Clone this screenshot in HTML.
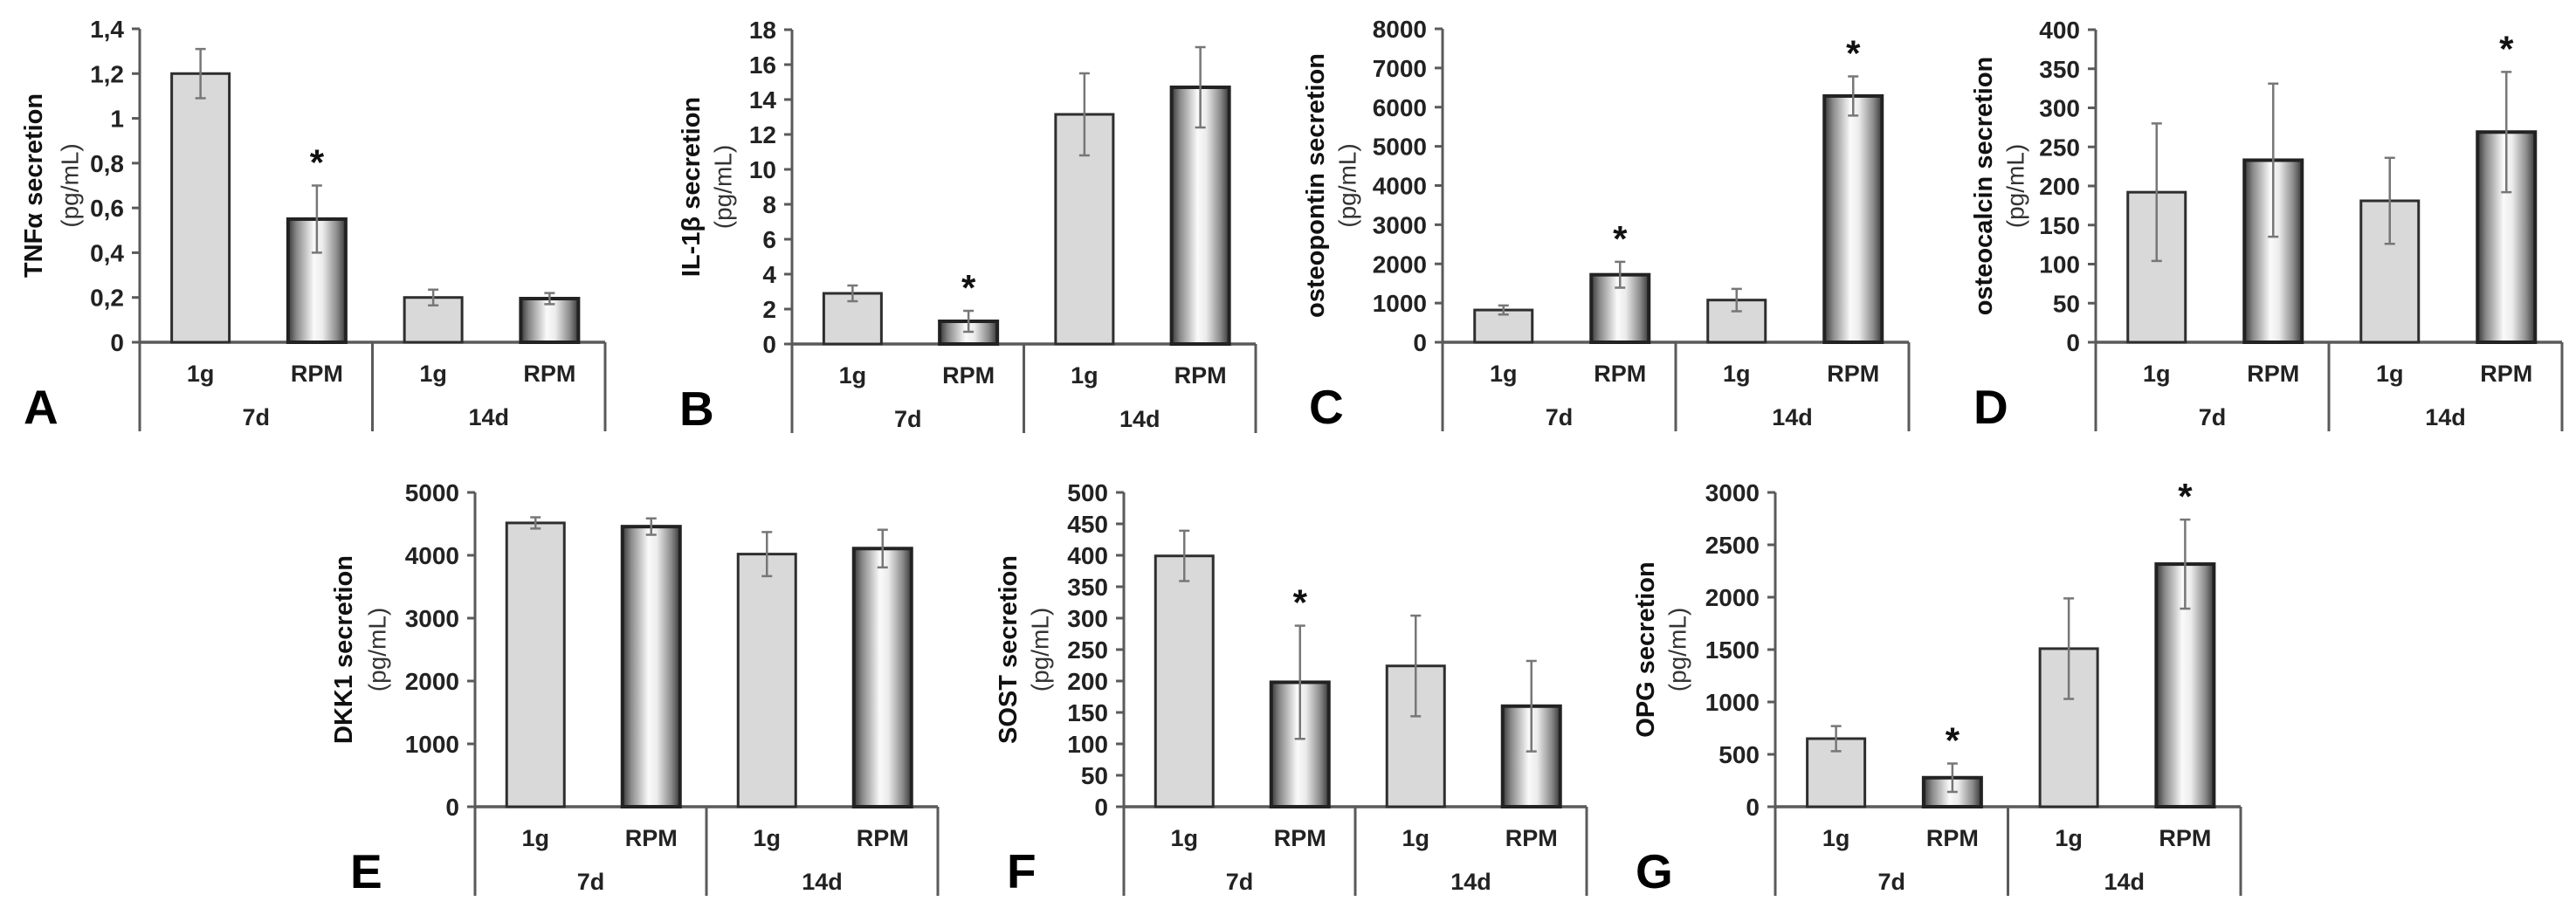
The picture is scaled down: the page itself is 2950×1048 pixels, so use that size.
<!DOCTYPE html>
<html><head><meta charset="utf-8"><style>
html,body{margin:0;padding:0;background:#fff;}
svg{display:block;font-family:"Liberation Sans",Arial,sans-serif;}
</style></head><body>
<svg id="fig" width="2950" height="1048" viewBox="0 0 2950 1048" xmlns="http://www.w3.org/2000/svg">
<defs>
<linearGradient id="rpmGrad" x1="0" y1="0" x2="1" y2="0">
<stop offset="0" stop-color="#383838"/><stop offset="0.15" stop-color="#8a8a8a"/><stop offset="0.45" stop-color="#fafafa"/><stop offset="0.6" stop-color="#ececec"/><stop offset="0.85" stop-color="#8a8a8a"/><stop offset="1" stop-color="#383838"/>
</linearGradient>
</defs>
</svg>
<script>
const catLabels = ['1g','RPM','1g','RPM'];
const groupLabels = ['7d','14d'];
const tnfValues = [1.2, 0.55, 0.2, 0.195];
const tnfErrors = [0.11, 0.15, 0.035, 0.025];
const tnfStars = [0,1,0,0];
const tnfTicks = [0,0.2,0.4,0.6,0.8,1,1.2,1.4];
const il1Values = [2.9, 1.3, 13.15, 14.7];
const il1Errors = [0.45, 0.6, 2.35, 2.3];
const il1Stars = [0,1,0,0];
const il1Ticks = [0,2,4,6,8,10,12,14,16,18];
const opnValues = [823, 1723, 1077, 6285];
const opnErrors = [115, 330, 285, 500];
const opnStars = [0,1,0,1];
const opnTicks = [0,1000,2000,3000,4000,5000,6000,7000,8000];
const ocnValues = [192, 233, 181, 269];
const ocnErrors = [88, 98, 55, 77];
const ocnStars = [0,0,0,1];
const ocnTicks = [0,50,100,150,200,250,300,350,400];
const dkkValues = [4515, 4456, 4019, 4107];
const dkkErrors = [90, 130, 350, 300];
const dkkStars = [0,0,0,0];
const dkkTicks = [0,1000,2000,3000,4000,5000];
const sostValues = [399, 198, 224, 160];
const sostErrors = [40, 90, 80, 72];
const sostStars = [0,1,0,0];
const sostTicks = [0,50,100,150,200,250,300,350,400,450,500];
const opgValues = [650, 277, 1509, 2316];
const opgErrors = [120, 135, 480, 425];
const opgStars = [0,1,0,1];
const opgTicks = [0,500,1000,1500,2000,2500,3000];

const panels = [
 {id:'tnf', letter:'A', title:'TNFα secretion', v:tnfValues, e:tnfErrors, s:tnfStars, t:tnfTicks, x0:160, zero:392, top:33, w:533, lx:27, t1:-121, t2:-80},
 {id:'il1b', letter:'B', title:'IL-1β secretion', v:il1Values, e:il1Errors, s:il1Stars, t:il1Ticks, x0:907, zero:394, top:34, w:531, lx:778, t1:-115, t2:-79},
 {id:'osteopontin', letter:'C', title:'osteopontin secretion', v:opnValues, e:opnErrors, s:opnStars, t:opnTicks, x0:1652, zero:392, top:33, w:534, lx:1499, t1:-145, t2:-109},
 {id:'osteocalcin', letter:'D', title:'osteocalcin secretion', v:ocnValues, e:ocnErrors, s:ocnStars, t:ocnTicks, x0:2400, zero:392, top:34, w:534, lx:2260, t1:-128, t2:-92},
 {id:'dkk1', letter:'E', title:'DKK1 secretion', v:dkkValues, e:dkkErrors, s:dkkStars, t:dkkTicks, x0:544, zero:924, top:564, w:530, lx:401, t1:-150, t2:-112},
 {id:'sost', letter:'F', title:'SOST secretion', v:sostValues, e:sostErrors, s:sostStars, t:sostTicks, x0:1287, zero:924, top:564, w:530, lx:1153, t1:-132, t2:-96},
 {id:'opg', letter:'G', title:'OPG secretion', v:opgValues, e:opgErrors, s:opgStars, t:opgTicks, x0:2033, zero:924, top:564, w:533, lx:1873, t1:-148, t2:-112}
];
const NS='http://www.w3.org/2000/svg';
const svg=document.getElementById('fig');
function mk(tag, attrs, parent, text){
  const el=document.createElementNS(NS,tag);
  for(const k in attrs) el.setAttribute(k, attrs[k]);
  if(text!==undefined) el.textContent=text;
  parent.appendChild(el); return el;
}
const AX='#5a5a5a';
panels.forEach(p=>{
  const g=mk('g',{},svg);
  
  
  const max=p.t[p.t.length-1];
  const y=v=>p.zero-(v/max)*(p.zero-p.top);
  const q=p.w/4;
  const xc=i=>p.x0+q*i+q/2+3;
  const ya=mk('line',{x1:p.x0,y1:p.top,x2:p.x0,y2:p.zero,stroke:AX,'stroke-width':3},g);
  
  
  p.t.forEach(t=>{
    mk('line',{x1:p.x0-9,y1:y(t),x2:p.x0,y2:y(t),stroke:AX,'stroke-width':3},g);
    const lbl=mk('text',{x:p.x0-18,y:y(t)+10,'text-anchor':'end','font-size':28,'font-weight':'bold',fill:'#222'},g,String(t).replace('.',','));
    
    
  });
  const xa=mk('line',{x1:p.x0,y1:p.zero,x2:p.x0+p.w,y2:p.zero,stroke:AX,'stroke-width':3.5},g);
  
  
  [0,0.5,1].forEach(f=>{
    mk('line',{x1:p.x0+p.w*f,y1:p.zero,x2:p.x0+p.w*f,y2:p.zero+102,stroke:AX,'stroke-width':3},g);
  });
  p.v.forEach((v,i)=>{
    const bw=66, bx=xc(i)-bw/2;
    const rpm=i%2===1;
    const r=mk('rect',{x:bx,y:y(v),width:bw,height:p.zero-y(v),fill:rpm?'url(#rpmGrad)':'#d9d9d9',stroke:rpm?'#222':'#2e2e2e','stroke-width':rpm?4:3},g);
    
    
    const e=p.e[i];
    const eb=mk('path',{d:`M${xc(i)},${y(v+e)}V${y(v-e)}M${xc(i)-6},${y(v+e)}H${xc(i)+6}M${xc(i)-6},${y(v-e)}H${xc(i)+6}`,stroke:'#777','stroke-width':2.5,fill:'none'},g);
    
    
    if(p.s[i]){
      const st=mk('text',{x:xc(i),y:y(v+e)-12,'text-anchor':'middle','font-size':42,'font-weight':'bold',fill:'#111'},g,'*');
      
      
    }
    const cl=mk('text',{x:xc(i),y:p.zero+45,'text-anchor':'middle','font-size':27,'font-weight':'bold',fill:'#222'},g,catLabels[i]);
    
    
  });
  groupLabels.forEach((gl,j)=>{
    const t=mk('text',{x:p.x0+p.w*(0.25+0.5*j),y:p.zero+95,'text-anchor':'middle','font-size':27,'font-weight':'bold',fill:'#222'},g,gl);
    
    
  });
  const cy=(p.top+p.zero)/2;
  const t1=mk('text',{x:0,y:0,transform:`translate(${p.x0+p.t1},${cy}) rotate(-90)`,'text-anchor':'middle','dominant-baseline':'central','font-size':29,'font-weight':'bold',fill:'#111'},g,p.title);
  
  
  const t2=mk('text',{x:0,y:0,transform:`translate(${p.x0+p.t2},${cy}) rotate(-90)`,'text-anchor':'middle','dominant-baseline':'central','font-size':28,fill:'#333'},g,'(pg/mL)');
  
  
  const L=mk('text',{x:p.lx,y:p.zero+93,'font-size':55,'font-weight':'bold',fill:'#000'},g,p.letter);
  
  
});
</script>
</body></html>
